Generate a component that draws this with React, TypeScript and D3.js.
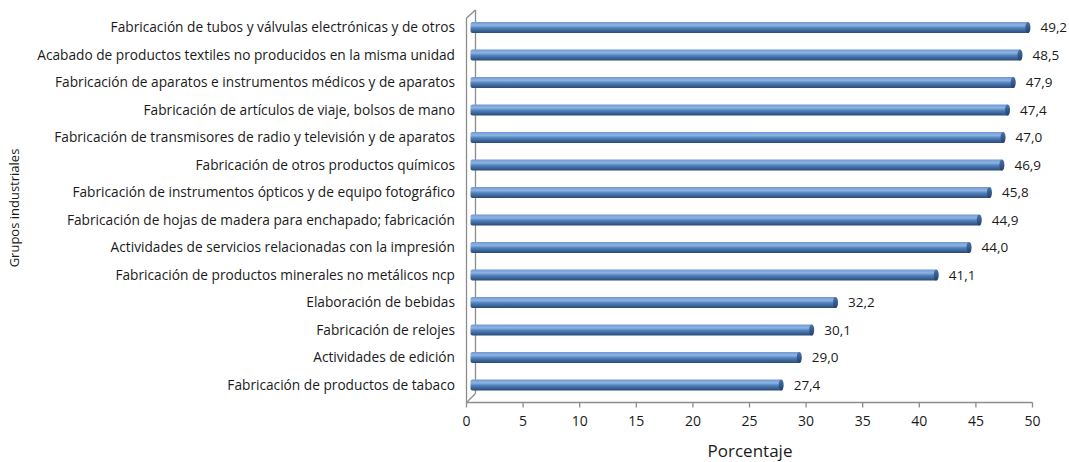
import React from "react";
import * as d3 from "d3";

const categories = [
  "Fabricación de tubos y válvulas electrónicas y de otros",
  "Acabado de productos textiles no producidos en la misma unidad",
  "Fabricación de aparatos e instrumentos médicos y de aparatos",
  "Fabricación de artículos de viaje, bolsos de mano",
  "Fabricación de transmisores de radio y televisión y de aparatos",
  "Fabricación de otros productos químicos",
  "Fabricación de instrumentos ópticos y de equipo fotográfico",
  "Fabricación de hojas de madera para enchapado; fabricación",
  "Actividades de servicios relacionadas con la impresión",
  "Fabricación de productos minerales no metálicos ncp",
  "Elaboración de bebidas",
  "Fabricación de relojes",
  "Actividades de edición",
  "Fabricación de productos de tabaco",
];
const values = [49.2, 48.5, 47.9, 47.4, 47.0, 46.9, 45.8, 44.9, 44.0, 41.1, 32.2, 30.1, 29.0, 27.4];
const ticks = [0, 5, 10, 15, 20, 25, 30, 35, 40, 45, 50];

const W = 1069, H = 462;
const FONT = "Open Sans, sans-serif";

export default function App() {
  const x = d3.scaleLinear().domain([0, 50]).range([466.5, 1032.5]);
  const y = d3.scalePoint<string>().domain(categories).range([27.5, 385]);
  const dx = 6, dy = -5;
  const bh = 11;
  const x0 = x(0), axisY = 402.5;
  const fmt = (v: number) => v.toFixed(1).replace(".", ",");
  return (
    <svg width={W} height={H} style={{ position: "absolute", left: 0, top: 0, background: "#fff" }}>
      <defs>
        <linearGradient id="barG" x1="0" y1="0" x2="0" y2="1">
          <stop offset="0" stopColor="#6d98d2" />
          <stop offset="0.3" stopColor="#8fb4e3" />
          <stop offset="0.55" stopColor="#4f81bd" />
          <stop offset="1" stopColor="#2a4a74" />
        </linearGradient>
        <linearGradient id="capG" x1="0" y1="0" x2="0" y2="1">
          <stop offset="0" stopColor="#4a76ad" />
          <stop offset="1" stopColor="#24406a" />
        </linearGradient>
      </defs>
      {/* wall */}
      <g stroke="#8c8c8c" strokeWidth={1.3} fill="none">
        <line x1={x0} y1={18} x2={x0} y2={axisY} />
        <line x1={x0 + dx + 3} y1={10} x2={x0 + dx + 3} y2={axisY + dy - 4} />
        <line x1={x0} y1={18} x2={x0 + dx + 3} y2={10} />
        <line x1={x0} y1={axisY} x2={x0 + dx + 3} y2={axisY + dy - 4} />
        <line x1={x0} y1={axisY} x2={x(50)} y2={axisY} />
        {ticks.map((t) => (
          <line key={t} x1={x(t)} y1={axisY} x2={x(t)} y2={axisY + 5} />
        ))}
      </g>
      {/* bars */}
      {categories.map((c, i) => {
        const cy = y(c)!;
        const xs = x0 + 4;
        const xe = x(values[i]) + dx;
        return (
          <g key={c}>
            <rect x={xs} y={cy - bh / 2} width={xe - xs} height={bh} rx={2} fill="url(#barG)" />
            <ellipse cx={xe - 1.5} cy={cy} rx={2.5} ry={bh / 2} fill="url(#capG)" />
            <text x={xe + 11} y={cy} dy="0.35em" fontSize={13.5} fontFamily={FONT} fill="#1a1a1a">
              {fmt(values[i])}
            </text>
            <text x={455} y={cy} dy="0.35em" textAnchor="end" fontSize={13.7} fontFamily={FONT} fill="#1a1a1a">
              {c}
            </text>
          </g>
        );
      })}
      {ticks.map((t) => (
        <text key={t} x={x(t)} y={421} dy="0.35em" textAnchor="middle" fontSize={14} fontFamily={FONT} fill="#1a1a1a">
          {t}
        </text>
      ))}
      <text x={750} y={451} dy="0.35em" textAnchor="middle" fontSize={17} fontFamily={FONT} fill="#1a1a1a">
        Porcentaje
      </text>
      <text transform="translate(14,208) rotate(-90)" dy="0.35em" textAnchor="middle" fontSize={13} fontFamily={FONT} fill="#1a1a1a">
        Grupos industriales
      </text>
    </svg>
  );
}
